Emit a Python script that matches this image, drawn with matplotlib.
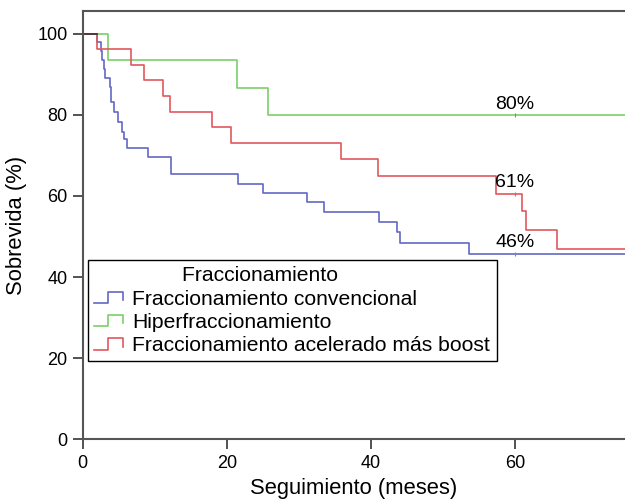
import numpy as np
import matplotlib
matplotlib.use("Agg")
import matplotlib.pyplot as plt
from matplotlib.lines import Line2D
from matplotlib.legend_handler import HandlerBase

plt.rcParams['font.family'] = ['Liberation Sans', 'DejaVu Sans']

# Kaplan-Meier step data (months, % survival)
conv_t = [0, 2.0, 2.5, 2.7, 2.9, 3.1, 3.8, 4.0, 4.4, 4.9, 5.4, 5.8, 6.1, 9.1,
          12.2, 21.6, 25.0, 31.1, 33.5, 41.2, 43.6, 44.0, 53.7, 76]
conv_s = [100, 97.9, 95.8, 93.5, 91.3, 89.2, 86.8, 83.1, 80.6, 78.2, 75.7, 74.0,
          71.7, 69.7, 65.3, 63.0, 60.8, 58.4, 56.1, 53.6, 51.1, 48.4, 45.8, 45.8]

hiper_t = [0, 3.5, 21.4, 25.8, 76]
hiper_s = [100, 93.4, 86.7, 80.0, 80.0]

acel_t = [0, 2.0, 6.75, 8.5, 11.1, 12.1, 18.0, 20.6, 35.8, 41.0, 57.4, 61.0,
          61.5, 65.8, 76]
acel_s = [100, 96.2, 92.4, 88.5, 84.6, 80.8, 76.9, 73.1, 69.2, 65.0, 60.6, 56.4,
          51.6, 47.0, 47.0]

series_names = ['Fraccionamiento convencional', 'Hiperfraccionamiento',
                'Fraccionamiento acelerado más boost']
colors = ['#6468c4', '#7cd068', '#e0585c']
pct_labels = ['46%', '80%', '61%']
label_month = 60


class StepHandler(HandlerBase):
    # small step-shaped legend icon
    def create_artists(self, legend, orig_handle, xdescent, ydescent,
                       width, height, fontsize, trans):
        xs = np.array([0, 0.47, 0.47, 1, 1]) * width - xdescent
        ys = np.array([0.1, 0.1, 0.85, 0.85, 0.3]) * height - ydescent
        ln = Line2D(xs, ys, color=orig_handle.get_color(),
                    lw=orig_handle.get_linewidth())
        ln.set_transform(trans)
        return [ln]


fig = plt.figure(figsize=(6.25, 5.03), dpi=100)
ax = fig.add_axes([0.1323, 0.1267, 0.8677, 0.8514])

all_t = [conv_t, hiper_t, acel_t]
all_s = [conv_s, hiper_s, acel_s]
handles = []
for t, s, c, name in zip(all_t, all_s, colors, series_names):
    h, = ax.step(t, s, where='post', color=c, lw=1.2, label=name)
    handles.append(h)

# shared start segment where all curves overlap
first_drop = min(t[1] for t in all_t)
ax.plot([0, first_drop], [all_s[0][0]] * 2, color='#4a3434', lw=1.3)

# percentage labels at 60 months
for t, s, lab in zip(all_t, all_s, pct_labels):
    idx = np.searchsorted(t, label_month, side='right') - 1
    v = s[idx]
    ax.plot([label_month], [v], marker='|', ms=3, color='#888888', mew=0.8)
    ax.annotate(lab, (label_month, v), xytext=(0, 1.5), textcoords='offset points',
                ha='center', va='bottom', fontsize=14)

ax.set_xlim(0, 75.3)
ax.set_ylim(0, 105.6)
ax.set_xticks([0, 20, 40, 60])
ax.set_yticks([0, 20, 40, 60, 80, 100])
ax.tick_params(labelsize=13, length=7, width=1.3, color='#444444', pad=4)
for side in ['left', 'bottom', 'top']:
    ax.spines[side].set_color('#555555')
    ax.spines[side].set_linewidth(1.5)
ax.spines['right'].set_visible(False)

ax.set_xlabel('Seguimiento (meses)', fontsize=15.8, labelpad=5)
ax.set_ylabel('Sobrevida (%)', fontsize=15.8, labelpad=7)

leg = ax.legend(handles=handles, title='Fraccionamiento' + '\u00a0' * 11,
                loc='upper left', bbox_to_anchor=(0.0098, 0.4186),
                borderaxespad=0, fontsize=15.2, title_fontsize=15.2,
                fancybox=False, edgecolor='black', framealpha=1,
                handlelength=1.35, handletextpad=0.45, labelspacing=0.2,
                borderpad=0.3, handler_map={Line2D: StepHandler()})
leg.get_frame().set_linewidth(1.0)

fig.savefig('out.png', dpi=100)
